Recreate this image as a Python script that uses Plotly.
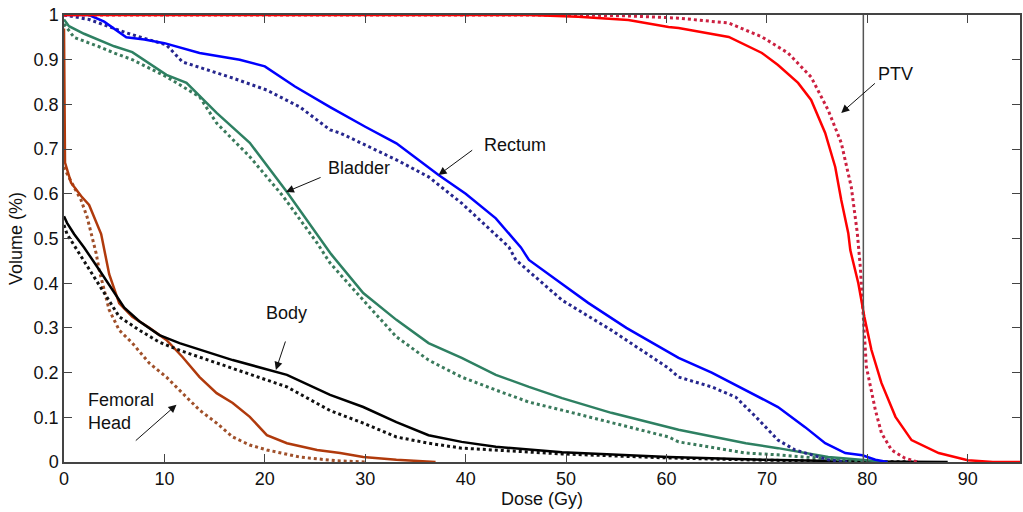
import plotly.graph_objects as go

# ---------------- data (Dose in Gy, Volume fraction) ----------------
ptv_x = [0, 40, 46.3, 51.2, 56.2, 60.2, 61.2, 66.2, 69.5, 71.1, 73.1, 74.4, 75.8, 76.8, 77.4, 78.1, 78.3, 79.1, 79.7, 80.4, 81.4, 82.8, 84.4, 87.1, 90.0, 92.5, 95.2]
ptv_y = [1.0, 1.0, 1.0, 0.996, 0.989, 0.973, 0.971, 0.951, 0.915, 0.888, 0.848, 0.81, 0.736, 0.66, 0.586, 0.512, 0.474, 0.4, 0.325, 0.251, 0.177, 0.101, 0.049, 0.02, 0.004, 0.0, 0.0]
ptv_dot_x = [0, 51.2, 56.2, 60.2, 61.2, 66.2, 69.5, 72.1, 74.4, 76.1, 77.4, 78.4, 79.0, 79.3, 79.6, 79.9, 80.8, 81.4, 82.4, 83.7, 85.0]
ptv_dot_y = [1.0, 1.0, 0.998, 0.995, 0.993, 0.982, 0.951, 0.915, 0.861, 0.787, 0.714, 0.615, 0.512, 0.436, 0.325, 0.213, 0.116, 0.065, 0.027, 0.009, 0.0]

rectum_x = [0, 2.5, 4, 5.5, 6.2, 8, 10, 13.5, 17.5, 20, 23, 26.5, 30, 33.1, 37.3, 40, 43, 45.5, 46.3, 49.5, 52.2, 56, 60.2, 61.2, 64.5, 67.9, 71.1, 73.8, 75.8, 77.8, 79.5, 80.8, 82]
rectum_y = [1.0, 1.0, 0.985, 0.96, 0.95, 0.945, 0.937, 0.915, 0.9, 0.885, 0.84, 0.794, 0.75, 0.713, 0.642, 0.6, 0.545, 0.48, 0.452, 0.4, 0.356, 0.3, 0.246, 0.233, 0.2, 0.161, 0.123, 0.078, 0.042, 0.02, 0.015, 0.005, 0.0]
rectum_dot_x = [0, 2.5, 6.2, 10.2, 11.8, 16.8, 20.2, 23.5, 26.5, 27.5, 33.1, 36.3, 39.6, 44.3, 45.0, 49.6, 54.5, 60.2, 61.2, 64.5, 66.9, 68.9, 71.1, 72.8, 76.1, 78.0]
rectum_dot_y = [1.0, 0.99, 0.96, 0.933, 0.895, 0.859, 0.832, 0.794, 0.743, 0.736, 0.676, 0.638, 0.579, 0.481, 0.452, 0.362, 0.295, 0.21, 0.19, 0.168, 0.145, 0.101, 0.049, 0.027, 0.005, 0.0]

bladder_x = [0, 0.5, 2, 3.5, 5, 6.8, 10.2, 12.2, 15.2, 18.5, 22.2, 26.6, 29.8, 33.1, 36.3, 39.6, 43, 46.3, 49.6, 54.5, 60.2, 61.2, 67.9, 71.1, 76.1, 79.4, 82]
bladder_y = [0.99, 0.975, 0.958, 0.944, 0.93, 0.917, 0.866, 0.848, 0.781, 0.714, 0.604, 0.465, 0.378, 0.318, 0.266, 0.233, 0.195, 0.168, 0.143, 0.11, 0.078, 0.072, 0.042, 0.031, 0.011, 0.004, 0.0]
bladder_dot_x = [0, 1, 3.5, 5, 6.8, 10.2, 13.5, 15.2, 18.5, 21.8, 25.2, 26.5, 29.8, 33.1, 36.3, 39.6, 43, 46.3, 49.6, 54.5, 60.2, 61.2, 67.9, 71.1, 76.1, 80]
bladder_dot_y = [0.98, 0.95, 0.929, 0.915, 0.9, 0.862, 0.817, 0.758, 0.683, 0.595, 0.49, 0.445, 0.362, 0.28, 0.228, 0.19, 0.161, 0.134, 0.116, 0.089, 0.056, 0.045, 0.02, 0.016, 0.007, 0.0]

body_x = [0, 0.3, 1, 2, 3.5, 5, 6, 7.5, 9.5, 11.5, 16.8, 22.2, 26.5, 29.8, 33.1, 36.3, 39.6, 43, 49.6, 60.2, 69.6, 79.6, 88]
body_y = [0.55, 0.535, 0.51, 0.48, 0.43, 0.38, 0.345, 0.315, 0.284, 0.266, 0.228, 0.195, 0.15, 0.123, 0.089, 0.06, 0.045, 0.034, 0.022, 0.011, 0.005, 0.001, 0.0]
body_dot_x = [0, 0.3, 1.7, 3.5, 5.5, 7.5, 9.5, 11.5, 16.8, 22.2, 26.5, 29.8, 33.1, 36.3, 39.6, 43, 49.6, 60.2, 69.6, 85]
body_dot_y = [0.53, 0.51, 0.46, 0.395, 0.325, 0.295, 0.268, 0.25, 0.21, 0.168, 0.115, 0.087, 0.056, 0.042, 0.031, 0.027, 0.018, 0.009, 0.004, 0.0]

femoral_x = [0, 0.1, 0.7, 1.7, 2.5, 3.0, 3.7, 4.5, 5.5, 6.8, 8.5, 10.2, 11.8, 13.5, 15.2, 16.8, 18.5, 20.2, 22.2, 25.2, 27.5, 29.8, 33.1, 37]
femoral_y = [0.97, 0.67, 0.625, 0.595, 0.575, 0.548, 0.51, 0.42, 0.355, 0.325, 0.3, 0.273, 0.235, 0.19, 0.154, 0.132, 0.101, 0.06, 0.042, 0.027, 0.02, 0.011, 0.005, 0.0]
femoral_dot_x = [0, 0.3, 1, 1.7, 2.3, 2.7, 3.2, 3.5, 4.5, 5.5, 6.8, 8.5, 10.2, 11.8, 13.5, 15.2, 16.8, 18.5, 20.2, 23.5, 27, 30]
femoral_dot_y = [0.66, 0.645, 0.615, 0.586, 0.548, 0.512, 0.467, 0.43, 0.34, 0.295, 0.266, 0.221, 0.19, 0.154, 0.116, 0.087, 0.056, 0.038, 0.027, 0.011, 0.003, 0.0]

prescription_dose = 79.6

x_ticks = [0, 10, 20, 30, 40, 50, 60, 70, 80, 90]
y_ticks = [0, 0.1, 0.2, 0.3, 0.4, 0.5, 0.6, 0.7, 0.8, 0.9, 1]

# ---------------- figure ----------------
series = [
    (femoral_dot_x, femoral_dot_y, "#a0502a", "dot", 3),
    (femoral_x, femoral_y, "#b03a0c", "solid", 2.5),
    (body_dot_x, body_dot_y, "#111111", "dot", 3),
    (body_x, body_y, "#000000", "solid", 2.5),
    (bladder_dot_x, bladder_dot_y, "#3a7a5c", "dot", 3),
    (bladder_x, bladder_y, "#2e8062", "solid", 2.5),
    (rectum_dot_x, rectum_dot_y, "#26268e", "dot", 3),
    (rectum_x, rectum_y, "#0000ff", "solid", 2.5),
    (ptv_dot_x, ptv_dot_y, "#cc2040", "dot", 3),
    (ptv_x, ptv_y, "#ff0000", "solid", 2.5),
]

fig = go.Figure()
for xs, ys, col, dash, w in series:
    fig.add_trace(go.Scatter(x=xs, y=ys, mode="lines",
                             line=dict(color=col, width=w, dash=dash),
                             showlegend=False, hoverinfo="skip"))

fig.add_vline(x=prescription_dose, line=dict(color="#555555", width=1.5))

FONT = "Liberation Sans, Arial, Helvetica, sans-serif"

def label(x, y, text, xanchor="center", align="center"):
    fig.add_annotation(x=x, y=y, text=text, showarrow=False, xanchor=xanchor,
                       align=align, font=dict(size=18, color="#111111", family=FONT))

def arrow(x0, y0, x1, y1):
    fig.add_annotation(x=x1, y=y1, ax=x0, ay=y0, axref="x", ayref="y",
                       text="", showarrow=True, arrowhead=2, arrowsize=1.6,
                       arrowwidth=1, arrowcolor="#111111")

label(82.8, 0.868, "PTV")
arrow(80.9, 0.850, 77.4, 0.781)
label(44.9, 0.709, "Rectum")
arrow(40.8, 0.700, 37.3, 0.642)
label(29.4, 0.658, "Bladder")
arrow(25.7, 0.638, 22.1, 0.604)
label(22.2, 0.333, "Body")
arrow(22.1, 0.273, 21.1, 0.206)
label(2.2, 0.112, "Femoral<br>Head", xanchor="left", align="left")
arrow(7.0, 0.045, 11.2, 0.128)

axis_common = dict(showline=True, linecolor="#444444", linewidth=1.5, mirror="ticks",
                   ticks="inside", ticklen=8, tickcolor="#444444", tickwidth=1.2,
                   showgrid=False, zeroline=False,
                   tickfont=dict(size=18, color="#111111", family=FONT))

fig.update_xaxes(range=[0, 95.2], tickvals=x_ticks, title=dict(text="Dose (Gy)", standoff=4,
                 font=dict(size=18, color="#111111", family=FONT)), **axis_common)
fig.update_yaxes(range=[0, 1], tickvals=y_ticks, title=dict(text="Volume (%)", standoff=6,
                 font=dict(size=18, color="#111111", family=FONT)), **axis_common)

fig.update_layout(width=1023, height=512, margin=dict(l=64, r=1, t=15, b=50),
                  paper_bgcolor="white", plot_bgcolor="white",
                  font=dict(family=FONT))

fig.write_html("out.html")
